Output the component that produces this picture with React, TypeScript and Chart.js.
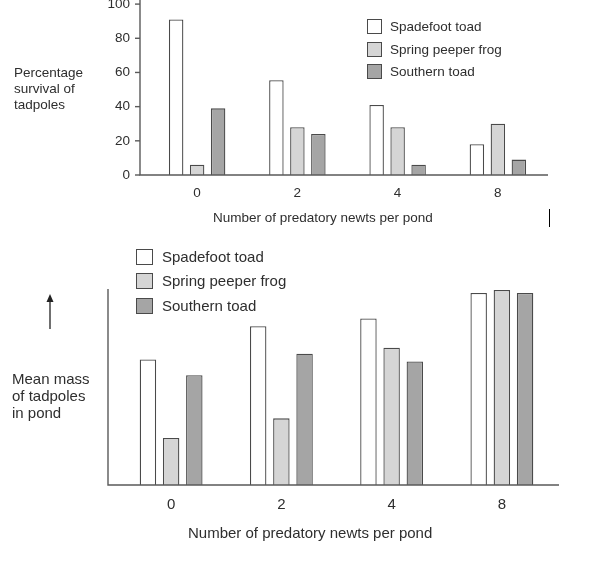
import React, { useEffect, useRef } from 'react';
import { Chart, registerables } from 'chart.js';
Chart.register(...registerables);

// ---- data ----
const categories = ['0', '2', '4', '8'];
const seriesNames = ['Spadefoot toad', 'Spring peeper frog', 'Southern toad'];
const survivalSpadefoot = [91, 55.5, 41, 18];
const survivalPeeper = [6, 28, 28, 30];
const survivalSouthern = [39, 24, 6, 9];
const massSpadefoot = [64, 81, 85, 98];
const massPeeper = [24, 34, 70, 99.5];
const massSouthern = [56, 67, 63, 98];
const survivalTickStep = 20;
const survivalMax = 100;
const massMax = 100;

const FONT = '"Liberation Sans", Arial, Helvetica, sans-serif';
const TEXT = '#2e2e2e';
const EDGE = '#4a4a4a';
const AXIS = '#5a5a5a';
const FILLS = ['#ffffff', '#d5d5d5', '#a5a5a5'];

const axesPlugin = {
  id: 'customAxes',
  afterDatasetsDraw(chart: any, _args: any, opts: any) {
    const { ctx, chartArea } = chart;
    const ax = chartArea.left - opts.offset;
    ctx.save();
    ctx.strokeStyle = AXIS;
    ctx.lineWidth = 1.4;
    ctx.beginPath();
    ctx.moveTo(ax, chartArea.top - (opts.topExtra || 0));
    ctx.lineTo(ax, chartArea.bottom);
    ctx.lineTo(chartArea.right + (opts.rightExtra || 0), chartArea.bottom);
    ctx.stroke();
    if (opts.tickMarks) {
      const y = chart.scales.y;
      y.ticks.forEach((t: any) => {
        const py = y.getPixelForValue(t.value);
        ctx.beginPath();
        ctx.moveTo(ax - 5, py);
        ctx.lineTo(ax, py);
        ctx.stroke();
      });
    }
    if (opts.arrow) {
      const { x, y1, y2 } = opts.arrow;
      ctx.strokeStyle = '#222';
      ctx.fillStyle = '#222';
      ctx.lineWidth = 1.3;
      ctx.beginPath();
      ctx.moveTo(x, y1);
      ctx.lineTo(x, y2 + 6);
      ctx.stroke();
      ctx.beginPath();
      ctx.moveTo(x, y2);
      ctx.lineTo(x - 3.5, y2 + 8);
      ctx.lineTo(x + 3.5, y2 + 8);
      ctx.closePath();
      ctx.fill();
    }
    ctx.restore();
  },
};

function makeConfig(p: any) {
  return {
    type: 'bar',
    data: {
      labels: categories,
      datasets: p.series.map((d: number[], i: number) => ({
        label: seriesNames[i],
        data: d,
        backgroundColor: FILLS[i],
        borderColor: EDGE,
        borderWidth: 1.3,
      })),
    },
    options: {
      responsive: false,
      animation: false,
      layout: { padding: { top: p.padTop, left: 0, right: p.padRight, bottom: 0 } },
      datasets: { bar: { categoryPercentage: p.catPct, barPercentage: p.barPct } },
      plugins: {
        legend: { display: false },
        tooltip: { enabled: false },
        customAxes: p.axes,
      },
      scales: {
        x: {
          grid: { display: false, drawTicks: false },
          border: { display: false },
          ticks: { color: TEXT, font: { family: FONT, size: p.fontSize }, padding: p.xTickPad },
          afterFit: (s: any) => { s.height = p.xHeight; },
        },
        y: {
          min: 0,
          max: p.max,
          grid: { display: false, drawTicks: false },
          border: { display: false },
          ticks: {
            display: p.yTicks,
            stepSize: survivalTickStep,
            color: TEXT,
            font: { family: FONT, size: p.fontSize },
            padding: 17,
          },
          afterFit: (s: any) => { s.width = p.yWidth; },
        },
      },
    },
    plugins: [axesPlugin],
  } as any;
}

function ChartCanvas({ config, left, top, width, height }: any) {
  const ref = useRef<HTMLCanvasElement>(null);
  useEffect(() => {
    const chart = new Chart(ref.current as HTMLCanvasElement, config);
    return () => chart.destroy();
  }, []);
  return (
    <canvas
      ref={ref}
      width={width}
      height={height}
      style={{ position: 'absolute', left, top, width, height }}
    />
  );
}

const abs = (left: number, top: number, size: number, extra: any = {}) => ({
  position: 'absolute' as const,
  left,
  top,
  fontFamily: FONT,
  fontSize: size,
  color: TEXT,
  whiteSpace: 'nowrap' as const,
  ...extra,
});

function Legend({ x, y, box, boxH, pitch, textX, size }: any) {
  return (
    <>
      {seriesNames.map((n, i) => (
        <React.Fragment key={n}>
          <div
            style={{
              position: 'absolute',
              left: x,
              top: y + i * pitch,
              width: box,
              height: boxH,
              boxSizing: 'border-box',
              border: `1.3px solid ${EDGE}`,
              background: FILLS[i],
            }}
          />
          <div style={abs(textX, y + i * pitch, size, { lineHeight: boxH + 'px' })}>{n}</div>
        </React.Fragment>
      ))}
    </>
  );
}

export default function App() {
  const topConfig = makeConfig({
    series: [survivalSpadefoot, survivalPeeper, survivalSouthern],
    max: survivalMax,
    padTop: 13.3,
    padRight: 59,
    catPct: 0.628,
    barPct: 0.69,
    fontSize: 13.5,
    xTickPad: 10,
    xHeight: 55,
    yWidth: 147,
    yTicks: true,
    axes: { offset: 7, tickMarks: true, topExtra: 14, rightExtra: 0 },
  });
  const bottomConfig = makeConfig({
    series: [massSpadefoot, massPeeper, massSouthern],
    max: massMax,
    padTop: 59,
    padRight: 50,
    catPct: 0.631,
    barPct: 0.71,
    fontSize: 15,
    xTickPad: 11,
    xHeight: 81,
    yWidth: 116,
    yTicks: false,
    axes: { offset: 8, tickMarks: false, topExtra: 0, rightExtra: 2, arrow: { x: 50, y1: 99, y2: 64 } },
  });

  return (
    <div style={{ position: 'absolute', left: 0, top: 0, width: 607, height: 566, overflow: 'hidden', background: '#fff' }}>
      <ChartCanvas config={topConfig} left={0} top={-21} width={607} height={251} />
      <ChartCanvas config={bottomConfig} left={0} top={230} width={607} height={336} />

      <div style={abs(14, 65, 13.5, { lineHeight: '16px' })}>
        Percentage<br />survival of<br />tadpoles
      </div>
      <div style={abs(213, 209, 13.5, { lineHeight: '18px' })}>Number of predatory newts per pond</div>
      <Legend x={367} y={19} box={15} boxH={15} pitch={22.5} textX={390} size={13.5} />
      <div style={{ position: 'absolute', left: 548.5, top: 209, width: 1.5, height: 18, background: '#000' }} />

      <div style={abs(12, 370, 15, { lineHeight: '17px' })}>
        Mean mass<br />of tadpoles<br />in pond
      </div>
      <div style={abs(188, 523, 15, { lineHeight: '20px' })}>Number of predatory newts per pond</div>
      <Legend x={136} y={249} box={17} boxH={16} pitch={24.3} textX={162} size={15} />
    </div>
  );
}
